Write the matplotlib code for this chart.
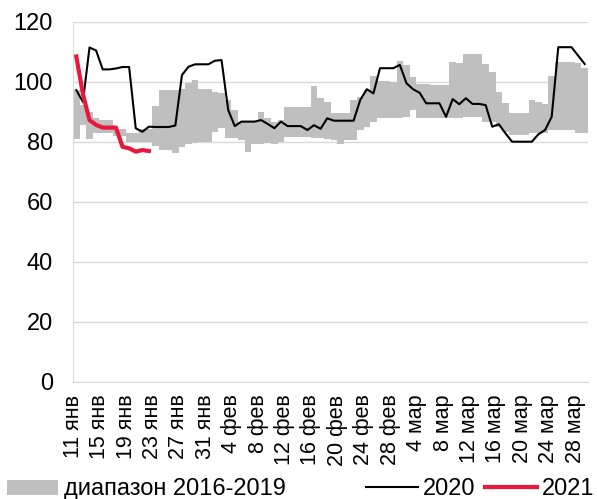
import numpy as np
import matplotlib
matplotlib.use('Agg')
import matplotlib.pyplot as plt
import matplotlib.transforms as mtransforms

plt.rcParams['font.family'] = ['Liberation Sans', 'DejaVu Sans']
plt.rcParams['font.size'] = 16

# ежедневные значения, 11 янв - 29 мар
tick_labels = ['11 янв', '15 янв', '19 янв', '23 янв', '27 янв', '31 янв',
               '4 фев', '8 фев', '12 фев', '16 фев', '20 фев', '24 фев', '28 фев',
               '4 мар', '8 мар', '12 мар', '16 мар', '20 мар', '24 мар', '28 мар']

range_low = [81, 85.7, 81, 83, 83, 83, 82, 82, 80.1, 80.1,
             80.1, 80.1, 78.7, 77.3, 77.3, 76.2, 78.4, 79.3, 79.8, 80,
             80, 83.4, 84.6, 81.2, 81.2, 80.7, 76.8, 79.3, 79.3, 79.6,
             79.3, 80, 81.8, 81.8, 81.8, 81.8, 81.2, 81.2, 81, 80.7,
             79.3, 80.7, 80.7, 84, 85.1, 86.5, 88, 88, 88, 88,
             88.4, 90.7, 88, 88, 88, 88, 88, 88, 88, 88.2,
             88.2, 88.2, 86.8, 86.8, 85.1, 83.4, 82.3, 82.3, 82.3, 82.9,
             83, 83, 84, 84, 84, 84, 83.1, 83.1]

range_high = [97.5, 92.3, 90, 88, 87.3, 87.3, 84.2, 84.2, 83, 83,
              84.2, 84.2, 92, 97.3, 97.3, 97.3, 97.5, 99.6, 100.7, 97.6,
              97.6, 96.8, 96.2, 94, 90.7, 86.8, 87, 86.8, 90.1, 87.9,
              86.8, 87.3, 91.8, 91.8, 91.8, 91.8, 98.7, 94.6, 93.4, 89.8,
              89.8, 89.8, 94, 95, 97.3, 102, 100.3, 100.3, 100.1, 107.1,
              105.7, 101.8, 99.3, 99.3, 99, 99, 99, 106.8, 106.2, 109.3,
              109.3, 109.3, 106, 103.4, 96.8, 92.9, 89.6, 89.6, 89.6, 94,
              93.4, 92.8, 102, 106.8, 106.8, 106.8, 106.2, 104.6]

y2020 = [97.3, 93.4, 111.5, 110.5, 104.2, 104.2, 104.5, 105, 105, 84.6,
         83.4, 85.1, 85, 85, 85, 85.5, 102.3, 105.1, 105.9, 105.9,
         105.9, 107.1, 107.3, 90.7, 85.3, 86.8, 86.8, 86.8, 87.3, 86,
         84.6, 86.8, 85.3, 85.3, 85.3, 84, 85.6, 84.4, 87.9, 87.1,
         87.1, 87.1, 87.1, 94, 97.6, 96.2, 104.6, 104.6, 104.6, 105.7,
         99.6, 97.6, 96.4, 92.9, 92.9, 92.9, 88.4, 94.3, 92.6, 94.6,
         92.7, 92.7, 92.3, 85.1, 85.9, 82.9, 80.1, 80.1, 80.1, 80.1,
         82.6, 84, 88.4, 111.6, 111.6, 111.6, 108.8, 106]

y2021 = [108.5, 96, 87.3, 85.7, 84.8, 84.8, 84.8, 78.4, 77.9, 76.8, 77.3, 77]

x = np.arange(len(y2020))
low = np.array(range_low)
high = np.array(range_high)

fig = plt.figure(figsize=(5.97, 4.99), dpi=100)
ax = fig.add_axes([73/597, 117/499, 515/597, 360/499])

band = ax.bar(x, high - low, bottom=low, width=1.0, color='#bfbfbf', linewidth=0,
              label='диапазон 2016-2019', zorder=2)
line20, = ax.plot(x, y2020, color='black', lw=1.5, label='2020', zorder=3)
line21, = ax.plot(x[:len(y2021)], y2021, color='#e8173c', lw=3, label='2021', zorder=4)

ax.set_ylim(0, 120)
ax.set_yticks(range(0, 121, 20))
ax.set_xlim(-0.5, len(x) - 0.5)
ax.set_xticks(x[::4])
ax.set_xticklabels(tick_labels, rotation=90, fontsize=15.5)
ax.grid(axis='y', color='#d9d9d9', lw=1, zorder=0)
ax.set_axisbelow(True)
for s in ['top', 'right']:
    ax.spines[s].set_visible(False)
for s in ['left', 'bottom']:
    ax.spines[s].set_color('#d9d9d9')
ax.tick_params(length=0)
ax.tick_params(axis='x', pad=9)
ax.tick_params(axis='y', pad=14.5, labelsize=17)

# подписи дат чуть левее, как в исходнике
shift = mtransforms.ScaledTranslation(-3/100, 0, fig.dpi_scale_trans)
for lbl in ax.get_xticklabels():
    lbl.set_transform(lbl.get_transform() + shift)

fig.legend([band], ['диапазон 2016-2019'], loc='lower left', bbox_to_anchor=(7/597, -0.003),
           frameon=False, borderpad=0, borderaxespad=0, handlelength=2.15,
           handleheight=0.6, handletextpad=0.25, fontsize=17)
fig.legend([line20, line21], ['2020', '2021'], loc='lower right', bbox_to_anchor=(594/597, -0.003),
           frameon=False, borderpad=0, borderaxespad=0, ncol=2, handlelength=2.2,
           handletextpad=0.2, columnspacing=0.42, fontsize=17)

fig.savefig('out.png', dpi=100)
